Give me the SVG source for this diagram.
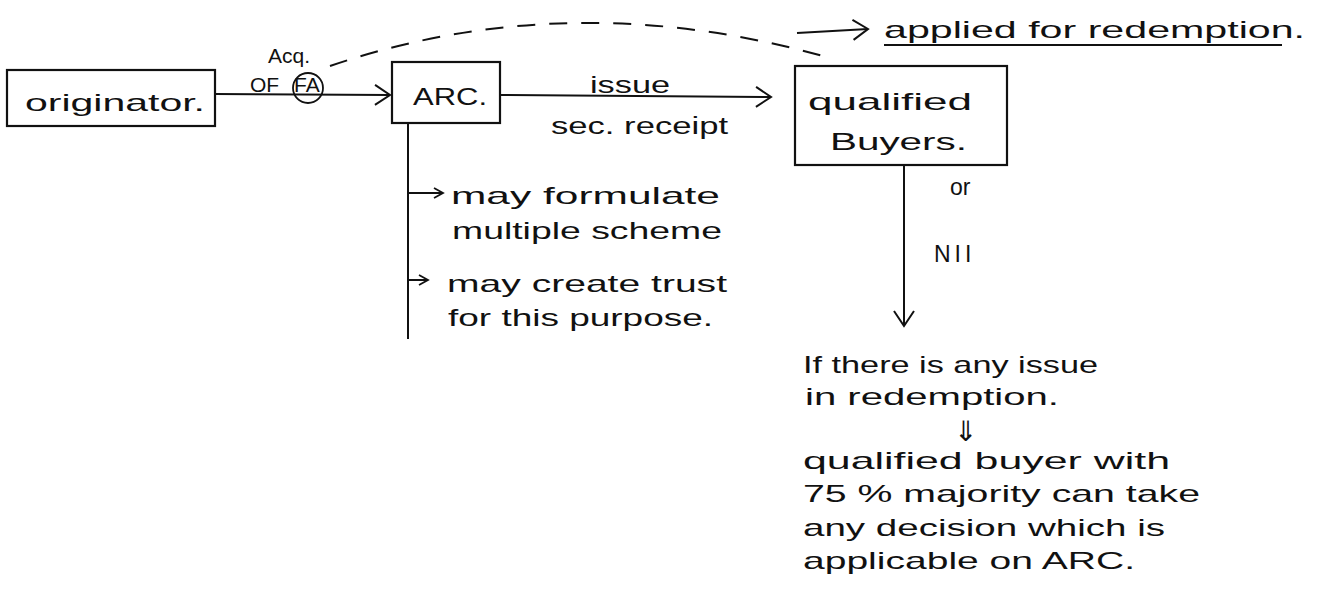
<svg xmlns="http://www.w3.org/2000/svg" width="1322" height="601" viewBox="0 0 1322 601">
<defs>
<marker id="chev" viewBox="0 0 24 24" refX="21" refY="12" markerWidth="24" markerHeight="24" markerUnits="userSpaceOnUse" orient="auto">
<polyline points="6,2 21,12 6,22" fill="none" stroke="#111" stroke-width="2"/>
</marker>
<marker id="chevs" viewBox="0 0 14 14" refX="12" refY="7" markerWidth="14" markerHeight="14" markerUnits="userSpaceOnUse" orient="auto">
<polyline points="3,2 12,7 3,12" fill="none" stroke="#111" stroke-width="1.8"/>
</marker>
</defs>
<style>
text{font-family:"Liberation Sans",Arial,sans-serif;font-size:24px;fill:#111;}
.sm{font-size:21px;}
.box{fill:none;stroke:#111;stroke-width:2.2;}
.ln{fill:none;stroke:#111;stroke-width:2;}
</style>
<rect width="1322" height="601" fill="#fff"/>

<g id="originator">
<rect class="box" x="7" y="70" width="208" height="56"/>
<text x="25" y="111" textLength="180" lengthAdjust="spacingAndGlyphs">originator.</text>
</g>

<g id="arc">
<rect class="box" x="392" y="62" width="108" height="61"/>
<text x="413" y="105" textLength="74" lengthAdjust="spacingAndGlyphs">ARC.</text>
</g>

<g id="qualified-buyers">
<rect class="box" x="795" y="66" width="212" height="99"/>
<text x="808" y="110" textLength="164" lengthAdjust="spacingAndGlyphs">qualified</text>
<text x="830" y="150" textLength="137" lengthAdjust="spacingAndGlyphs">Buyers.</text>
</g>

<g id="redemption-note">
<text x="884" y="38" textLength="421" lengthAdjust="spacingAndGlyphs">applied for redemption.</text>
<line class="ln" x1="884" y1="45" x2="1282" y2="45"/>
</g>

<g id="arc-notes">
<text x="451" y="204" textLength="269" lengthAdjust="spacingAndGlyphs">may formulate</text>
<text x="452" y="239" textLength="270" lengthAdjust="spacingAndGlyphs">multiple scheme</text>
<text x="447" y="292" textLength="280" lengthAdjust="spacingAndGlyphs">may create trust</text>
<text x="448" y="326" textLength="265" lengthAdjust="spacingAndGlyphs">for this purpose.</text>
</g>

<g id="issue-note">
<text x="803" y="373" textLength="295" lengthAdjust="spacingAndGlyphs">If there is any issue</text>
<text x="805" y="405" textLength="254" lengthAdjust="spacingAndGlyphs">in redemption.</text>
<text x="954" y="441" style="font-size:28px">⇓</text>
<text x="803" y="469" textLength="367" lengthAdjust="spacingAndGlyphs">qualified buyer with</text>
<text x="803" y="502" textLength="397" lengthAdjust="spacingAndGlyphs">75 % majority can take</text>
<text x="803" y="536" textLength="362" lengthAdjust="spacingAndGlyphs">any decision which is</text>
<text x="803" y="569" textLength="332" lengthAdjust="spacingAndGlyphs">applicable on ARC.</text>
</g>

<g id="connectors">
<line class="ln" x1="215" y1="94" x2="390" y2="95" marker-end="url(#chev)"/>
<text class="sm" x="268" y="63">Acq.</text>
<text class="sm" x="250" y="92">OF</text>
<text class="sm" x="294" y="92">FA</text>
<circle cx="308" cy="88" r="15" fill="none" stroke="#111" stroke-width="1.8"/>
<path class="ln" d="M 330 66 Q 570 -16 830 58" stroke-dasharray="18,14" stroke-width="2.4"/>
<line class="ln" x1="797" y1="33" x2="868" y2="29" marker-end="url(#chev)"/>

<line class="ln" x1="500" y1="95" x2="771" y2="97" marker-end="url(#chev)"/>
<text x="590" y="93" textLength="80" lengthAdjust="spacingAndGlyphs">issue</text>
<text x="551" y="134" textLength="177" lengthAdjust="spacingAndGlyphs" style="font-size:23px">sec. receipt</text>

<line class="ln" x1="408" y1="123" x2="408" y2="339"/>
<line class="ln" x1="408" y1="193" x2="443" y2="193" marker-end="url(#chevs)"/>
<line class="ln" x1="408" y1="280" x2="428" y2="280" marker-end="url(#chevs)"/>

<line class="ln" x1="904" y1="165" x2="904" y2="326" marker-end="url(#chev)"/>
<text x="950" y="195" style="font-size:23px">or</text>
<text x="934" y="262" style="font-size:23px;letter-spacing:4px">NII</text>
</g>
</svg>
